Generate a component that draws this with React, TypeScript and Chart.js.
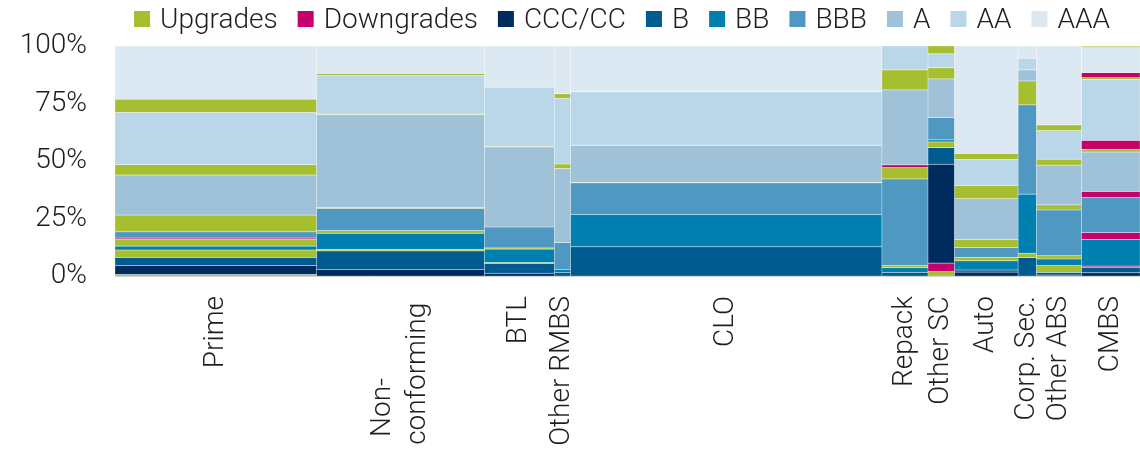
import React, { useEffect, useRef } from 'react';
import { Chart, registerables } from 'chart.js';

Chart.register(...registerables);

// ---------- data ----------
const seriesNames = ['Upgrades', 'Downgrades', 'CCC/CC', 'B', 'BB', 'BBB', 'A', 'AA', 'AAA'];
const seriesColors = ['#a5bf30', '#c6006a', '#002b5e', '#005b90', '#0080b0', '#4f98c2', '#9fc2d9', '#b9d7e8', '#dce9f2'];

const NBSP = '\u00A0';
const categoryLabels: (string | string[])[] = [
  'Prime',
  ['Non-' + NBSP.repeat(12), 'conforming' + NBSP],
  'BTL',
  'Other RMBS',
  'CLO',
  'Repack',
  'Other SC',
  'Auto',
  'Corp. Sec.',
  'Other ABS',
  'CMBS',
];
// share of outstanding volume (column widths)
const categoryWidths = [19.7, 16.4, 6.8, 1.6, 30.4, 4.5, 2.6, 6.2, 1.8, 4.4, 5.7];

type Seg = [string, number];
// rating composition of each column, bottom to top (%)
const prime: Seg[] = [
  ['Upgrades', 0.7], ['CCC/CC', 3.9], ['B', 3.5], ['Upgrades', 3.2], ['BB', 1.7], ['Upgrades', 3.0],
  ['Downgrades', 0.5], ['BBB', 2.7], ['Upgrades', 7.3], ['A', 17.4], ['Upgrades', 4.5], ['AA', 22.8],
  ['Upgrades', 5.7], ['AAA', 23.1],
];
const nonConforming: Seg[] = [
  ['CCC/CC', 2.9], ['B', 8.0], ['Upgrades', 0.7], ['BB', 7.0], ['Upgrades', 1.1], ['BBB', 9.7],
  ['Upgrades', 0.3], ['A', 40.4], ['Upgrades', 0.3], ['AA', 16.8], ['Upgrades', 0.9], ['AAA', 11.9],
];
const btl: Seg[] = [
  ['CCC/CC', 1.2], ['B', 4.3], ['Upgrades', 0.4], ['BB', 5.8], ['Upgrades', 0.5], ['BBB', 9.1],
  ['A', 34.8], ['Upgrades', 0.3], ['AA', 25.7], ['AAA', 17.9],
];
const otherRmbs: Seg[] = [
  ['B', 1.6], ['BB', 1.3], ['BBB', 11.6], ['A', 32.3], ['Upgrades', 1.9], ['AA', 28.6],
  ['Upgrades', 1.9], ['AAA', 20.8],
];
const clo: Seg[] = [
  ['B', 12.7], ['BB', 14.1], ['BBB', 13.7], ['Upgrades', 0.2], ['A', 16.0], ['Upgrades', 0.2],
  ['AA', 23.2], ['Upgrades', 0.2], ['AAA', 19.7],
];
const repack: Seg[] = [
  ['B', 1.6], ['BB', 2.0], ['Upgrades', 0.9], ['BBB', 37.7], ['Upgrades', 4.9], ['Downgrades', 1.2],
  ['A', 32.6], ['Upgrades', 8.7], ['AA', 10.4],
];
const otherSc: Seg[] = [
  ['Upgrades', 1.9], ['Downgrades', 3.7], ['CCC/CC', 43.0], ['B', 7.2], ['Upgrades', 2.5], ['BB', 0.9],
  ['BBB', 9.7], ['A', 16.8], ['Upgrades', 4.8], ['AA', 6.1], ['Upgrades', 3.4],
];
const auto: Seg[] = [
  ['CCC/CC', 1.7], ['B', 0.9], ['BB', 4.0], ['Upgrades', 1.5], ['BBB', 4.3], ['Upgrades', 3.5],
  ['A', 17.7], ['Upgrades', 5.8], ['AA', 11.3], ['Upgrades', 2.6], ['AAA', 46.7],
];
const corpSec: Seg[] = [
  ['B', 8.0], ['Upgrades', 1.9], ['BB', 25.7], ['BBB', 38.8], ['Upgrades', 10.4], ['A', 4.8],
  ['AA', 5.1], ['AAA', 5.3],
];
const otherAbs: Seg[] = [
  ['CCC/CC', 0.4], ['B', 1.2], ['Upgrades', 2.9], ['BB', 2.9], ['Upgrades', 1.4], ['BBB', 19.9],
  ['Upgrades', 2.2], ['A', 17.3], ['Upgrades', 2.6], ['AA', 12.4], ['Upgrades', 2.5], ['AAA', 34.3],
];
const cmbs: Seg[] = [
  ['CCC/CC', 1.4], ['B', 2.2], ['Downgrades', 0.7], ['BB', 11.6], ['Downgrades', 3.0], ['BBB', 15.2],
  ['Downgrades', 2.7], ['A', 17.1], ['Upgrades', 1.2], ['Downgrades', 3.9], ['AA', 26.5],
  ['Upgrades', 0.7], ['Downgrades', 2.2], ['AAA', 10.9], ['Upgrades', 0.6],
];
const stacks: Seg[][] = [prime, nonConforming, btl, otherRmbs, clo, repack, otherSc, auto, corpSec, otherAbs, cmbs];
const yTickValues = [0, 25, 50, 75, 100];

// ---------- helpers ----------
const FONT_FAMILY = 'Roboto, "Liberation Sans", sans-serif';
const TEXT_COLOR = '#1e1e1e';
const X_FONT_SIZE = 28;
const X_LINE_HEIGHT = 1.25;
const totalWidth = categoryWidths.reduce((a, b) => a + b, 0);
const centers: number[] = [];
{
  let acc = 0;
  categoryWidths.forEach((w) => {
    centers.push(acc + w / 2);
    acc += w;
  });
}
const colorOf = (name: string) => seriesColors[seriesNames.indexOf(name)];

const mekkoPlugin = {
  id: 'mekko',
  beforeDatasetsDraw(chart: any) {
    const { ctx, chartArea, scales } = chart;
    const x = scales.x;
    const y = scales.y;
    ctx.save();
    ctx.beginPath();
    ctx.rect(chartArea.left, chartArea.top - 1, chartArea.right - chartArea.left, chartArea.bottom - chartArea.top + 1);
    ctx.clip();
    let cx = 0;
    stacks.forEach((stack, i) => {
      const w = categoryWidths[i];
      const px0 = x.getPixelForValue(cx);
      const px1 = x.getPixelForValue(cx + w);
      let cy = 0;
      stack.forEach(([name, v]) => {
        const py0 = y.getPixelForValue(cy);
        const py1 = y.getPixelForValue(cy + v);
        ctx.fillStyle = colorOf(name);
        ctx.fillRect(px0, py1, px1 - px0, py0 - py1);
        cy += v;
      });
      cy = 0;
      ctx.strokeStyle = 'rgba(255,255,255,0.45)';
      ctx.lineWidth = 0.6;
      stack.forEach(([, v]) => {
        const py0 = y.getPixelForValue(cy);
        const py1 = y.getPixelForValue(cy + v);
        ctx.strokeRect(px0, py1, px1 - px0, py0 - py1);
        cy += v;
      });
      cx += w;
    });
    ctx.restore();
  },
};

const legendPlugin = {
  id: 'topLegend',
  afterDraw(chart: any) {
    const ctx = chart.ctx;
    const items = chart.data.datasets.map((d: any) => ({ text: d.label as string, color: d.backgroundColor as string }));
    ctx.save();
    ctx.font = `300 28px ${FONT_FAMILY}`;
    ctx.textBaseline = 'alphabetic';
    ctx.textAlign = 'left';
    const box = 16;
    const gapText = 10;
    const gapItem = 20;
    const widths = items.map((it: any) => ctx.measureText(it.text).width);
    const total =
      widths.reduce((a: number, w: number) => a + box + gapText + w, 0) + gapItem * (items.length - 1);
    let xx = 622 - total / 2;
    items.forEach((it: any, i: number) => {
      ctx.fillStyle = it.color;
      ctx.fillRect(xx, 11, box, 16);
      ctx.fillStyle = TEXT_COLOR;
      ctx.fillText(it.text, xx + box + gapText, 28);
      xx += box + gapText + widths[i] + gapItem;
    });
    ctx.restore();
  },
};

export default function App() {
  const canvasRef = useRef<HTMLCanvasElement | null>(null);

  useEffect(() => {
    if (!canvasRef.current) return;
    const chart = new Chart(canvasRef.current, {
      type: 'scatter',
      data: {
        datasets: seriesNames.map((n, i) => ({
          label: n,
          data: [],
          backgroundColor: seriesColors[i],
          pointRadius: 0,
        })),
      },
      options: {
        animation: false,
        responsive: false,
        devicePixelRatio: 1,
        layout: { padding: { top: 46, left: 0, right: 0, bottom: 0 }, autoPadding: false },
        plugins: {
          legend: { display: false },
          tooltip: { enabled: false },
        },
        scales: {
          x: {
            type: 'linear',
            min: 0,
            max: totalWidth,
            bounds: 'data',
            offset: false,
            afterBuildTicks: (axis: any) => {
              // multi-line labels: centre the block of lines on the column
              const unitsPerPx = totalWidth / 1025;
              const lh = X_FONT_SIZE * X_LINE_HEIGHT;
              axis.ticks = centers.map((v, i) => {
                const lab = categoryLabels[i];
                const lines = Array.isArray(lab) ? lab.length : 1;
                return { value: v - ((lines - 1) * lh * unitsPerPx) / 2 };
              });
            },
            afterFit: (axis: any) => {
              axis.height = 174;
              axis.paddingLeft = 0;
              axis.paddingRight = 0;
            },
            ticks: {
              autoSkip: false,
              minRotation: 90,
              maxRotation: 90,
              padding: 20,
              color: TEXT_COLOR,
              font: { family: FONT_FAMILY, size: X_FONT_SIZE, weight: 300 as any, lineHeight: X_LINE_HEIGHT },
              callback: (_v: any, i: number) => categoryLabels[i] as any,
            },
            grid: { display: false, drawTicks: false, offset: false },
            border: { display: true, color: '#cfd3d3', width: 1 },
          },
          y: {
            type: 'linear',
            min: 0,
            max: 100,
            afterBuildTicks: (axis: any) => {
              axis.ticks = yTickValues.map((v) => ({ value: v }));
            },
            afterFit: (axis: any) => {
              axis.width = 115;
              axis.paddingTop = 0;
              axis.paddingBottom = 0;
            },
            ticks: {
              padding: 28,
              color: TEXT_COLOR,
              font: { family: FONT_FAMILY, size: 28, weight: 300 as any },
              callback: (v: any) => `${v}%`,
            },
            grid: { display: false, drawTicks: false },
            border: { display: false },
          },
        },
      } as any,
      plugins: [mekkoPlugin, legendPlugin],
    });
    return () => chart.destroy();
  }, []);

  return (
    <div style={{ position: 'absolute', left: 0, top: 0, width: 1140, height: 450, background: '#fff' }}>
      <canvas ref={canvasRef} width={1140} height={450} style={{ width: 1140, height: 450 }} />
    </div>
  );
}
